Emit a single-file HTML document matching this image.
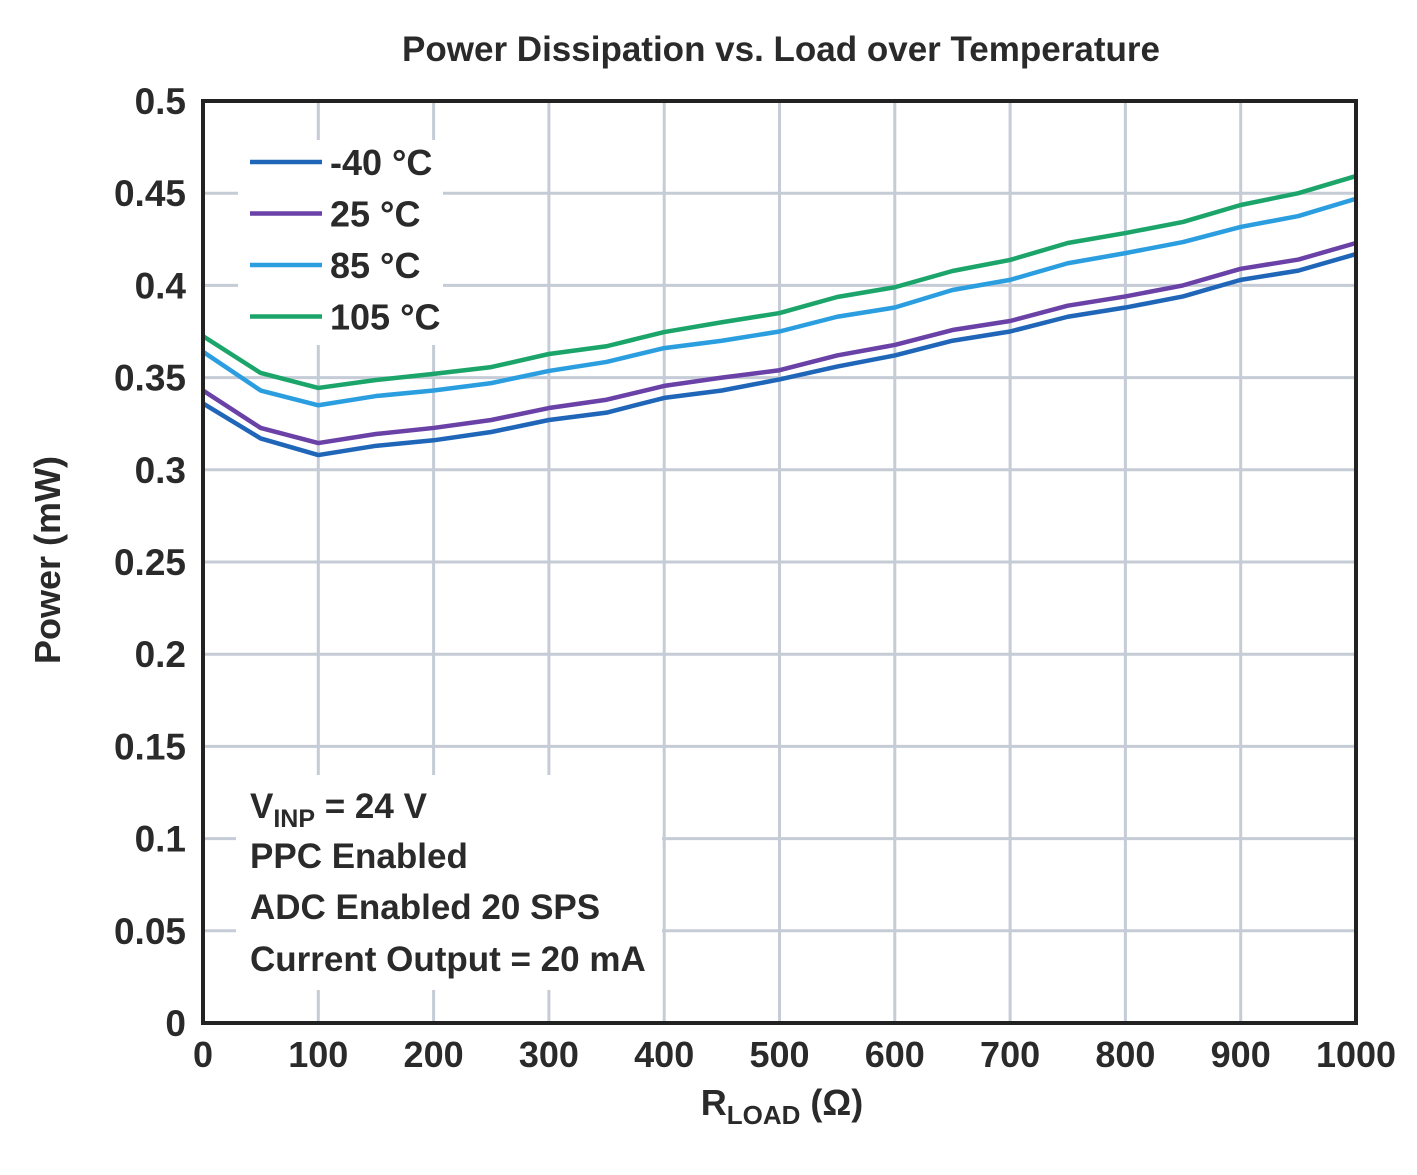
<!DOCTYPE html>
<html><head><meta charset="utf-8"><style>
body{margin:0;background:#fff;}
svg text{font-family:"Liberation Sans",sans-serif;font-weight:bold;fill:#2a2a2a;}
</style></head><body>
<svg width="1417" height="1170" id="chart" xmlns="http://www.w3.org/2000/svg">
<text x="781" y="61" text-anchor="middle" font-size="35">Power Dissipation vs. Load over Temperature</text>
<g id="grid"></g>
<g id="series"></g>
<rect x="238" y="140" width="205" height="205" fill="#fff"/>
<g id="legend"></g>
<rect x="236" y="775" width="426" height="215" fill="#fff"/>
<g font-size="35">
<text x="250" y="818">V<tspan font-size="25" dy="9">INP</tspan><tspan dy="-9"> = 24 V</tspan></text>
<text x="250" y="868">PPC Enabled</text>
<text x="250" y="919">ADC Enabled 20 SPS</text>
<text x="250" y="971">Current Output = 20 mA</text>
</g>
<rect x="203" y="101" width="1153" height="922" fill="none" stroke="#222" stroke-width="4"/>
<g id="ticks"></g>
<text transform="translate(60,560) rotate(-90)" text-anchor="middle" font-size="36">Power (mW)</text>
<text x="782" y="1115" text-anchor="middle" font-size="36">R<tspan font-size="26" dy="9">LOAD</tspan><tspan dy="-9"> (Ω)</tspan></text>
</svg>
<script>
const xVals=[0,50,100,150,200,250,300,350,400,450,500,550,600,650,700,750,800,850,900,950,1000];
const sM40=[0.336,0.317,0.308,0.313,0.316,0.3205,0.327,0.331,0.339,0.343,0.349,0.356,0.362,0.370,0.375,0.383,0.388,0.394,0.403,0.408,0.417];
const s25=[0.343,0.3227,0.3145,0.3194,0.3227,0.327,0.3335,0.338,0.3455,0.350,0.354,0.362,0.3677,0.3758,0.3807,0.389,0.394,0.400,0.409,0.414,0.423];
const s85=[0.364,0.343,0.335,0.340,0.343,0.347,0.3536,0.3585,0.366,0.370,0.375,0.383,0.388,0.3975,0.403,0.412,0.4175,0.4235,0.4317,0.4376,0.447];
const s105=[0.3725,0.3525,0.3444,0.3487,0.352,0.3557,0.3628,0.367,0.3747,0.380,0.385,0.3937,0.399,0.4078,0.4138,0.423,0.4284,0.4344,0.4436,0.450,0.4593];
const seriesNames=["-40 °C","25 °C","85 °C","105 °C"];
const xTicks=[0,100,200,300,400,500,600,700,800,900,1000];
const yTicks=[0,0.05,0.1,0.15,0.2,0.25,0.3,0.35,0.4,0.45,0.5];
const yTickLabels=["0","0.05","0.1","0.15","0.2","0.25","0.3","0.35","0.4","0.45","0.5"];
const colors=["#1f66b8","#6a41a6","#2b9ee0","#1ca56a"];
const X=v=>203+v/1000*1153, Y=v=>1023-v/0.5*922;
const NS="http://www.w3.org/2000/svg";
function mk(t,a,p){const e=document.createElementNS(NS,t);for(const k in a)e.setAttribute(k,a[k]);p.appendChild(e);return e;}
const grid=document.getElementById('grid'),ticks=document.getElementById('ticks');
xTicks.forEach(v=>{const l=mk('line',{x1:X(v),x2:X(v),y1:101,y2:1023,stroke:'#c5ccd6','stroke-width':3},grid);

const t=mk('text',{x:X(v),y:1067,'text-anchor':'middle','font-size':36},ticks);t.textContent=v;
});
yTicks.forEach((v,i)=>{const l=mk('line',{x1:203,x2:1356,y1:Y(v),y2:Y(v),stroke:'#c5ccd6','stroke-width':3},grid);

const t=mk('text',{x:186,y:Y(v)+13,'text-anchor':'end','font-size':37},ticks);t.textContent=yTickLabels[i];
});
const ser=document.getElementById('series'),leg=document.getElementById('legend');
[sM40,s25,s85,s105].forEach((s,i)=>{
const p=mk('polyline',{points:s.map((v,j)=>X(xVals[j])+','+Y(v)).join(' '),fill:'none',stroke:colors[i],'stroke-width':4.5,'stroke-linejoin':'round'},ser);

const yy=162+i*51.5;
const l=mk('line',{x1:250,x2:322,y1:yy,y2:yy,stroke:colors[i],'stroke-width':4.5},leg);

const t=mk('text',{x:330,y:yy+13,'font-size':36},leg);t.textContent=seriesNames[i];
});
</script>
</body></html>
